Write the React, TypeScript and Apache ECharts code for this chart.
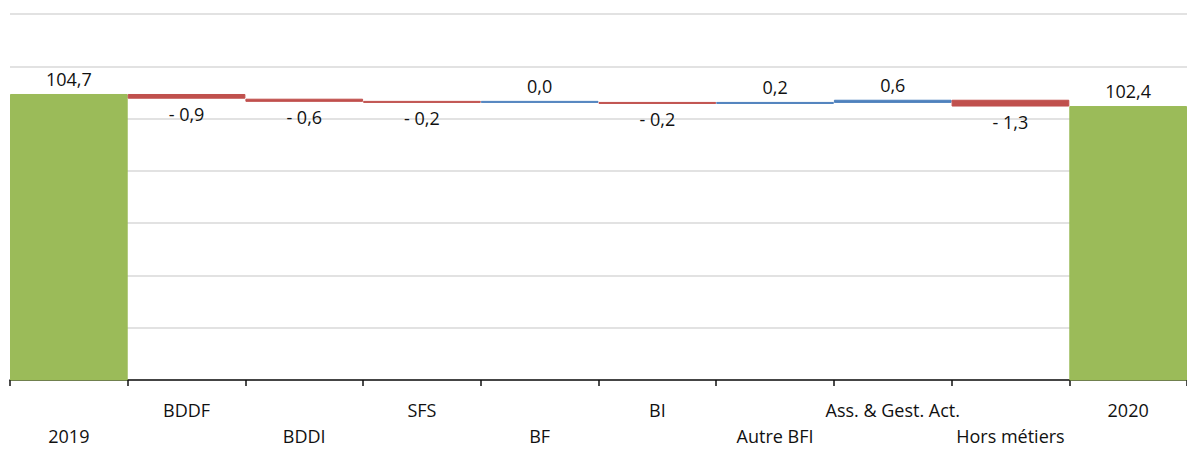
import React, { useEffect, useRef } from "react";
import * as echarts from "echarts";

const categories = [
  "2019",
  "BDDF",
  "BDDI",
  "SFS",
  "BF",
  "BI",
  "Autre BFI",
  "Ass. & Gest. Act.",
  "Hors métiers",
  "2020",
];
const startTotal = 104.7;
const endTotal = 102.4;
const deltas = [-0.9, -0.6, -0.2, 0.0, -0.2, 0.2, 0.6, -1.3];

const GREEN = "#9BBB59";
const RED = "#C0504D";
const BLUE = "#4F81BD";

const fmt = (v: number) =>
  v < 0
    ? "- " + Math.abs(v).toFixed(1).replace(".", ",")
    : v.toFixed(1).replace(".", ",");

export default function App() {
  const ref = useRef<HTMLDivElement>(null);
  useEffect(() => {
    document.body.style.margin = "0";
    if (!ref.current) return;
    const chart = echarts.init(ref.current, undefined, { renderer: "svg" });

    const base: number[] = [];
    const vals: any[] = [];
    base.push(0);
    vals.push({
      value: startTotal,
      itemStyle: { color: GREEN, borderColor: GREEN },
      label: { position: "top", formatter: fmt(startTotal) },
    });
    let running = startTotal;
    deltas.forEach((d) => {
      const next = Math.round((running + d) * 10) / 10;
      base.push(Math.min(running, next));
      const col = d < 0 ? RED : BLUE;
      vals.push({
        value: Math.abs(d),
        itemStyle: { color: col, borderColor: col },
        label: { position: d < 0 ? "bottom" : "top", formatter: fmt(d) },
      });
      running = next;
    });
    base.push(0);
    vals.push({
      value: endTotal,
      itemStyle: { color: GREEN, borderColor: GREEN },
      label: { position: "top", formatter: fmt(endTotal) },
    });

    chart.setOption({
      animation: false,
      grid: { left: 10, right: 0, top: 14, bottom: 73, containLabel: false },
      xAxis: {
        type: "category",
        data: categories,
        axisLine: { lineStyle: { color: "#111", width: 1.5 } },
        axisTick: { show: true, length: 6, lineStyle: { color: "#111", width: 1.5 } },
        axisLabel: {
          interval: 0,
          margin: 17,
          color: "#111",
          fontFamily: "Open Sans",
          fontSize: 18,
          lineHeight: 26,
          formatter: (v: string, i: number) => (i % 2 === 0 ? "\n" + v : v),
        },
      },
      yAxis: {
        type: "value",
        min: 50,
        max: 120,
        interval: 10,
        axisLabel: { show: false },
        axisLine: { show: false },
        axisTick: { show: false },
        splitLine: { lineStyle: { color: "#d9d9d9", width: 1.5 } },
      },
      series: [
        {
          type: "bar",
          stack: "w",
          data: base,
          barCategoryGap: "0%",
          itemStyle: { color: "transparent" },
          silent: true,
        },
        {
          type: "bar",
          stack: "w",
          data: vals,
          barCategoryGap: "0%",
          barMinHeight: 2,
          itemStyle: { borderWidth: 1 },
          label: {
            show: true,
            distance: 6,
            color: "#111",
            fontFamily: "Open Sans",
            fontSize: 18,
          },
        },
      ],
    });
    return () => chart.dispose();
  }, []);
  return <div ref={ref} style={{ width: 1187, height: 453 }} />;
}
